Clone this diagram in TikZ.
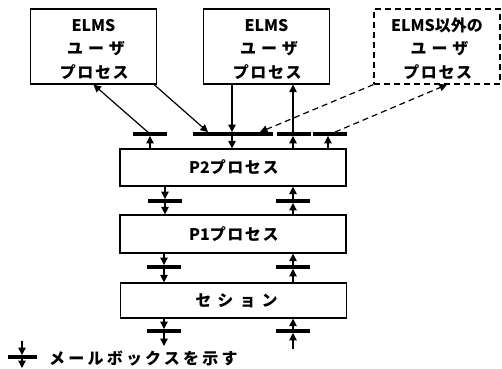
\documentclass[tikz,border=0pt]{standalone}
\usepackage{fontspec}
\setmainfont{Noto Sans CJK JP}
\usetikzlibrary{arrows.meta}
\newcommand\dgfont{\fontsize{16}{23.5}\selectfont\bfseries}
\newcommand\spA[1]{{\addfontfeature{LetterSpace=10}#1\kern-0.10em}}
\newcommand\spB[1]{{\addfontfeature{LetterSpace=31}#1\kern-0.31em}}
\newcommand\spC[1]{{\addfontfeature{LetterSpace=38}#1\kern-0.38em}}
\newcommand\spD[1]{{\addfontfeature{LetterSpace=20}#1\kern-0.20em}}
\newcommand\topstrut{\rule{0pt}{18pt}}
\tikzset{
  ubox/.style={draw, line width=1.2pt, minimum width=126pt, minimum height=75pt, inner sep=0pt, align=center, font=\dgfont},
  pbox/.style={draw, line width=1.2pt, minimum width=226pt, inner sep=0pt, font=\dgfont},
  mbar/.style={fill=black, draw=none, inner sep=0pt, minimum height=3.5pt, minimum width=34pt},
  arr/.style={line width=1.2pt, -{Triangle[length=7.5pt,width=7.5pt]}},
  darr/.style={arr, dash pattern=on 6pt off 4pt},
}
\begin{document}
\begin{tikzpicture}[x=1pt,y=-1pt]
\useasboundingbox (0,0) rectangle (502,368);
% user processes
\node[ubox] (u1) at (93.5,46.5) {\topstrut ELMS\\\spB{ユーザ}\\\spA{プロセス}};
\node[ubox] (u2) at (266.5,46.5) {\topstrut ELMS\\\spB{ユーザ}\\\spA{プロセス}};
\node[ubox, dash pattern=on 6pt off 4pt] (u3) at (437,46.5) {\topstrut ELMS以外の\\\spB{ユーザ}\\\spA{プロセス}};
% layers
\node[pbox, minimum height=37pt] (p2) at (233,167.5) {P2\spA{プロセス}};
\node[pbox, minimum height=38pt] (p1) at (233,234) {P1\spA{プロセス}};
\node[pbox, minimum height=35pt] (ses) at (233.5,300.5) {\spC{セション}};
% mailbox bars
\node[mbar] (mb1) at (150,134) {};
\node[mbar, minimum width=80pt] (mb2) at (233,134) {};
\node[mbar] (mb3) at (294,134) {};
\node[mbar] (mb4) at (330,134) {};
\node[mbar] (mL1) at (165,201) {};
\node[mbar] (mR1) at (293,201) {};
\node[mbar] (mL2) at (164,267) {};
\node[mbar] (mR2) at (293,267) {};
\node[mbar] (mL3) at (164,331) {};
\node[mbar] (mR3) at (293,331) {};
\node[mbar, minimum width=29pt] (lg) at (22,357) {};
% column coordinates
\coordinate (c2) at (232,0);
\coordinate (c3) at (293,0);
\coordinate (c4) at (328,0);
\coordinate (endL) at (164,346);
\coordinate (startR) at (293,349);
\coordinate (lgt) at (22,341);
\coordinate (lgb) at (22,368);
% top level connections
\draw[arr] (p2.north -| mb1) -- (mb1.south);
\draw[arr] (mb1.center) -- (u1.south);
\draw[arr] ([xshift=-3pt]u1.south east) -- ([xshift=-25pt]mb2.north);
\draw[arr] (u2.south -| c2) -- (mb2.north -| c2);
\draw[arr] (mb2.south -| c2) -- (p2.north -| c2);
\draw[darr] (u3.south west) -- ([xshift=27pt]mb2.north);
\draw[arr] (p2.north -| c3) -- (mb3.south -| c3);
\draw[arr] (mb3.north -| c3) -- (u2.south -| c3);
\draw[arr] (p2.north -| c4) -- (mb4.south -| c4);
\draw[darr] ([xshift=5pt]mb4.north) -- ([xshift=10pt]u3.south);
% P2 - P1
\draw[arr] (p2.south -| mL1) -- (mL1.north);
\draw[arr] (mL1.south) -- (p1.north -| mL1);
\draw[arr] (p1.north -| mR1) -- (mR1.south);
\draw[arr] (mR1.north) -- (p2.south -| mR1);
% P1 - session
\draw[arr] (p1.south -| mL2) -- (mL2.north);
\draw[arr] (mL2.south) -- (ses.north -| mL2);
\draw[arr] (ses.north -| mR2) -- (mR2.south);
\draw[arr] (mR2.north) -- (p1.south -| mR2);
% below session
\draw[arr] (ses.south -| mL3) -- (mL3.north);
\draw[arr] (mL3.south) -- (endL);
\draw[arr] (startR) -- (mR3.south);
\draw[arr] (mR3.north) -- (ses.south -| mR3);
% legend
\draw[arr] (lgt) -- (lg.north);
\draw[arr] (lg.south) -- (lgb);
\node[anchor=west, font=\dgfont, inner sep=0pt] (lgtxt) at (49,359) {\spD{メールボックスを示す}};
\end{tikzpicture}
\end{document}
